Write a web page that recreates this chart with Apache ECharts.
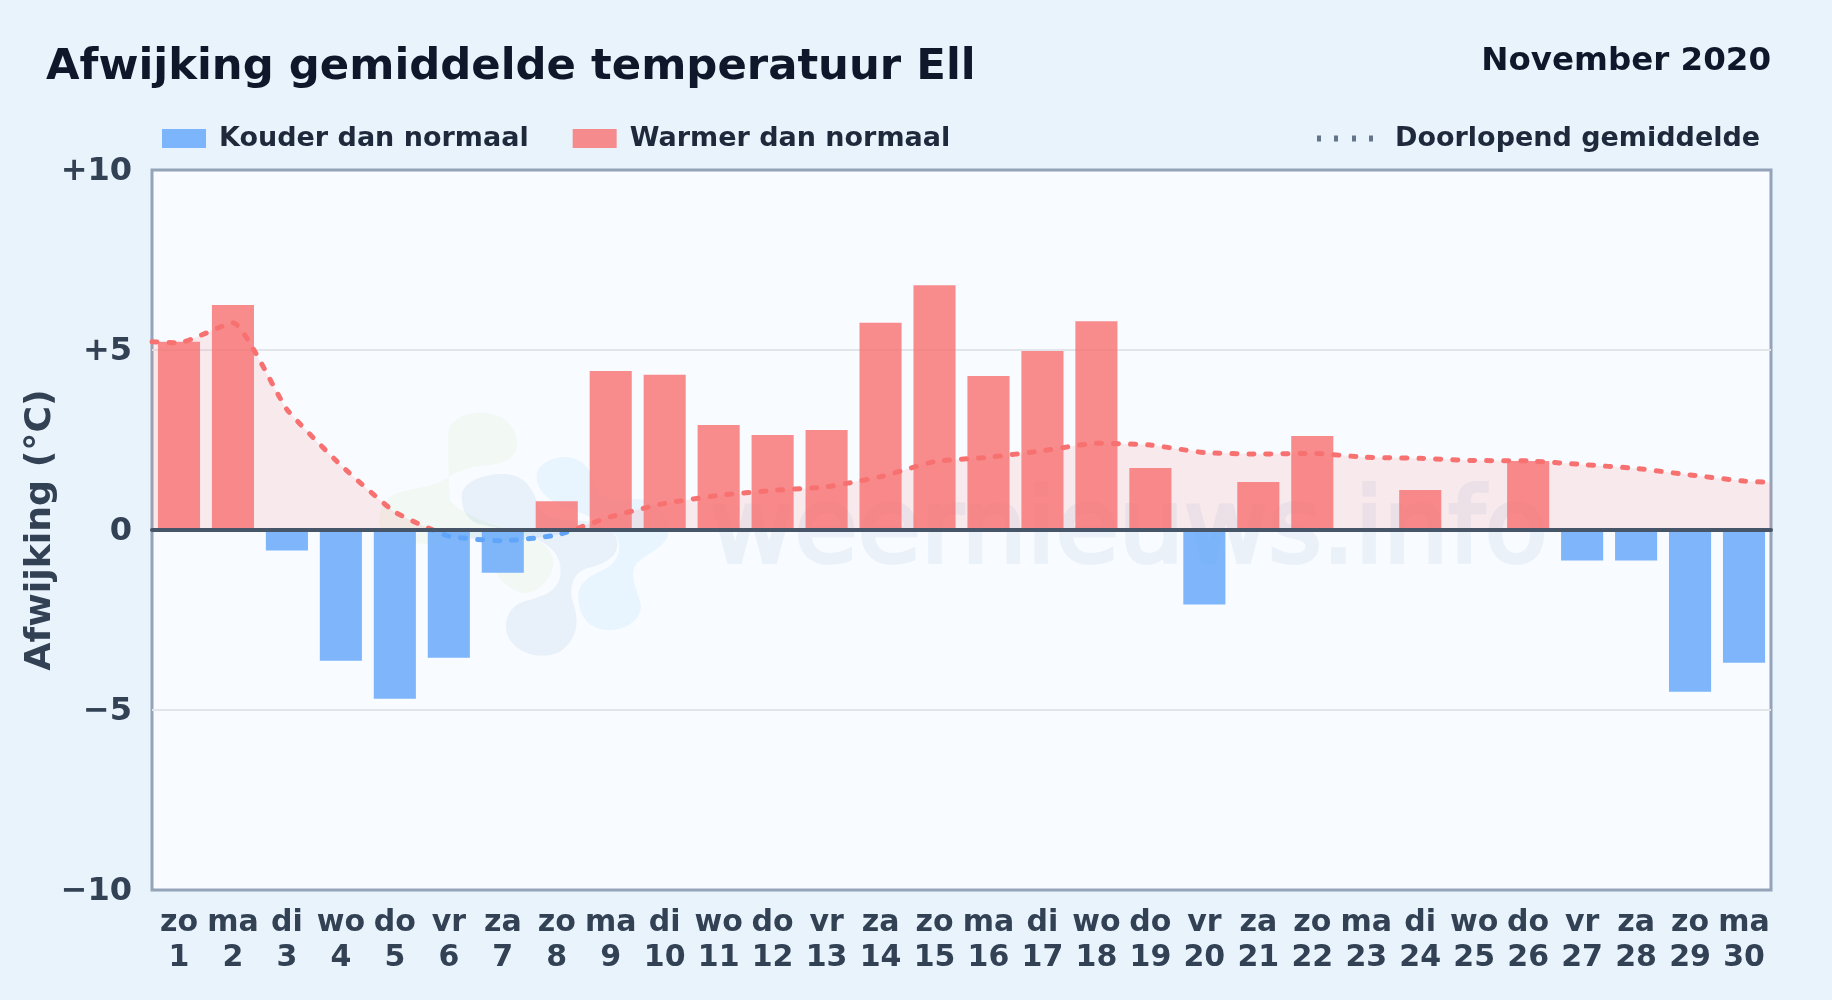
<!DOCTYPE html>
<html><head><meta charset="utf-8">
<style>html,body{margin:0;padding:0;background:#e9f3fc}#c{width:1832px;height:1000px}</style>
<script src="https://cdn.jsdelivr.net/npm/echarts@6/dist/echarts.min.js"></script>
</head><body><div id="c"></div>
<script>
const weekdays = ['zo','ma','di','wo','do','vr','za','zo','ma','di','wo','do','vr','za','zo','ma','di','wo','do','vr','za','zo','ma','di','wo','do','vr','za','zo','ma'];
const days = [1,2,3,4,5,6,7,8,9,10,11,12,13,14,15,16,17,18,19,20,21,22,23,24,25,26,27,28,29,30];
const warmValues = [5.23,6.25,null,null,null,null,null,0.8,4.42,4.31,2.92,2.64,2.78,5.76,6.8,4.28,4.97,5.8,1.72,null,1.33,2.61,null,1.11,null,1.92,null,null,null,null];
const coldValues = [null,null,-0.57,-3.63,-4.69,-3.55,-1.19,null,null,null,null,null,null,null,null,null,null,null,null,-2.07,null,null,null,null,null,null,-0.85,-0.85,-4.49,-3.69];
const runningMean = [5.2,5.76,3.35,1.8,0.5,-0.17,-0.3,-0.14,0.37,0.74,0.96,1.1,1.2,1.48,1.9,2.02,2.2,2.41,2.36,2.15,2.11,2.13,2.02,1.99,1.93,1.92,1.82,1.71,1.53,1.36];
const meanEdgeLeft = 5.23, meanEdgeRight = 1.32;
const yTickLabels = {'10':'+10','5':'+5','0':'0','-5':'−5','-10':'−10'};
const titleText = 'Afwijking gemiddelde temperatuur Ell';
const periodText = 'November 2020';
const coldName = 'Kouder dan normaal', warmName = 'Warmer dan normaal', meanName = 'Doorlopend gemiddelde';
const yName = 'Afwijking (°C)';
const watermarkText = 'weernieuws.info';

const FONT = 'DejaVu Sans';
const categories = days.map((d,i)=>weekdays[i]+'\n'+d);
const meanData = [[0.5,meanEdgeLeft]].concat(days.map((d,i)=>[d,runningMean[i]]),[[30.5,meanEdgeRight]]);

// faint logo behind the plot (decoration only)
const blobs = [
 {c:'rgba(132,204,22,0.05)', p:'M265 100C265 60 320 35 375 38C440 42 475 90 472 135C468 180 420 195 370 197C310 200 275 225 250 240C220 260 160 265 110 280C70 295 50 340 60 380C80 420 160 435 220 430C280 420 340 400 370 420C385 480 400 540 480 580C530 585 575 540 580 495C585 450 540 420 500 405C400 380 300 340 270 300C265 250 265 150 265 100Z'},
 {c:'rgba(30,110,170,0.07)', p:'M305 290C305 245 370 222 430 222C490 222 520 265 532 310C540 350 590 365 650 362C720 360 775 390 772 435C768 480 720 495 680 505C640 520 625 560 640 610C660 670 650 720 600 755C550 780 480 765 450 720C425 680 440 620 490 605C540 590 590 580 600 530C612 470 570 430 510 410C450 385 400 385 350 370C320 355 305 330 305 290Z'},
 {c:'rgba(56,160,240,0.08)', p:'M530 230C530 190 580 170 620 172C670 175 695 210 700 250C705 290 760 310 820 298C880 290 930 350 925 400C920 440 860 460 830 490C805 520 830 570 842 610C850 660 790 695 740 690C680 685 655 640 655 590C655 550 690 525 730 510C770 490 790 450 770 410C745 370 690 350 640 330C580 310 530 280 530 230Z'}
];
blobs.forEach((b,i)=>echarts.graphic.registerShape('logoBlob'+i, echarts.graphic.extendPath(b.p,{})));

const chart = echarts.init(document.getElementById('c'), null, {renderer:'canvas'});
chart.setOption({
  animation:false,
  backgroundColor:'#e9f3fc',
  title:[
    {text:titleText,left:46,top:46,textStyle:{fontFamily:FONT,fontWeight:'bold',fontSize:43.35,color:'#0f172a'},padding:0},
    {text:periodText,right:61,top:45,textStyle:{fontFamily:FONT,fontWeight:'bold',fontSize:32.5,color:'#0f172a'},padding:0}
  ],
  legend:[
    {left:162,top:125,padding:0,itemWidth:44,itemHeight:19,itemGap:44,selectedMode:false,icon:'rect',
     data:[coldName,warmName],
     textStyle:{fontFamily:FONT,fontWeight:'bold',fontSize:27,color:'#1e293b',padding:[0,0,0,8]}},
    {left:1317,top:125,padding:0,itemWidth:56,itemHeight:6,selectedMode:false,
     data:[{name:meanName,icon:'path://M0 0h4v6h-4zM17 0h4v6h-4zM35 0h4v6h-4zM52 0h4v6h-4z',itemStyle:{color:'#64748b'}}],
     textStyle:{fontFamily:FONT,fontWeight:'bold',fontSize:27,color:'#1e293b',padding:[0,0,0,17]}}
  ],
  grid:{left:152,right:61,top:170,bottom:110,show:true,backgroundColor:'#f8fbff',borderColor:'#94a3b8',borderWidth:3},
  xAxis:[
    {type:'category',data:categories,position:'bottom',axisLine:{show:false,onZero:false},axisTick:{show:false},splitLine:{show:false},
     axisLabel:{interval:0,margin:16,hideOverlap:false,fontFamily:FONT,fontWeight:'bold',fontSize:30,lineHeight:35,color:'#334155'}},
    {type:'value',min:0.5,max:30.5,position:'top',axisLine:{show:true,onZero:true,lineStyle:{color:'#475569',width:4}},axisTick:{show:false},axisLabel:{show:false},splitLine:{show:false},z:6}
  ],
  yAxis:{type:'value',min:-10,max:10,interval:5,name:yName,nameLocation:'middle',nameGap:93,nameRotate:90,nameMoveOverlap:false,
    nameTextStyle:{fontFamily:FONT,fontWeight:'bold',fontSize:36.3,color:'#334155'},
    axisLine:{show:false},axisTick:{show:false},
    axisLabel:{margin:20,verticalAlign:'top',lineHeight:32,padding:[-14,0,0,0],fontFamily:FONT,fontWeight:'bold',fontSize:32,color:'#334155',formatter:v=>yTickLabels[String(v)]},
    splitLine:{show:true,showMinLine:false,showMaxLine:false,lineStyle:{color:'#e2e6ea',width:2}}},
  visualMap:{show:false,type:'piecewise',seriesIndex:2,dimension:1,pieces:[{min:-100,max:0,color:'#60a5fa'},{min:0,max:100,color:'#f87171'}]},
  graphic:{elements:[
    {type:'text',z:1,silent:true,x:710,y:484,style:{text:watermarkText,font:'103px "DejaVu Sans"',fill:'#eaf1f9',stroke:'#eaf1f9',lineWidth:4,textAlign:'left'}},
    ...blobs.map((b,i)=>({type:'logoBlob'+i,z:1,silent:true,x:360,y:400,scaleX:1/3,scaleY:1/3,style:{fill:b.c}}))
  ]},
  series:[
    {name:coldName,type:'bar',xAxisIndex:0,data:coldValues,barWidth:'78%',barGap:'-100%',itemStyle:{color:'rgba(96,165,250,0.8)'},z:3},
    {name:warmName,type:'bar',xAxisIndex:0,data:warmValues,barWidth:'78%',barGap:'-100%',itemStyle:{color:'rgba(248,113,113,0.8)'},z:3},
    {name:meanName,type:'line',xAxisIndex:1,data:meanData,showSymbol:false,smooth:0.15,
     lineStyle:{width:5,type:[5,12],cap:'round'},areaStyle:{opacity:0.13},z:4}
  ]
});
</script></body></html>
